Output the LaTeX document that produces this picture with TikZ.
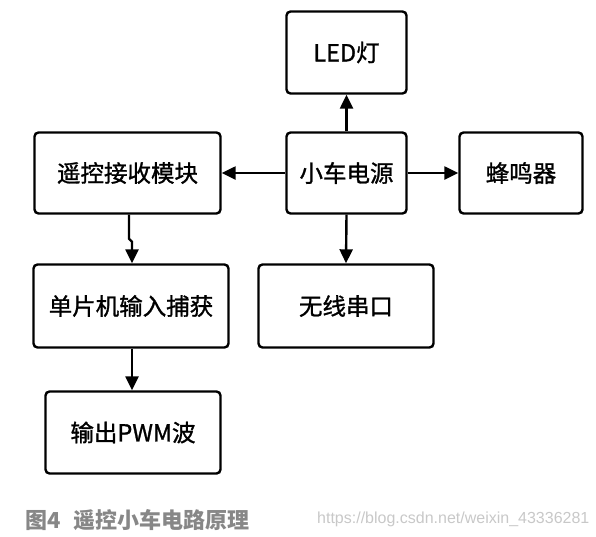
\documentclass[tikz,border=0pt]{standalone}
\usepackage{fontspec}
\setmainfont{Noto Sans CJK SC}
\newfontfamily\boxfont{Noto Sans CJK SC}[FakeBold=1.2]
\newfontfamily\urlfont{Liberation Sans}
\usetikzlibrary{arrows.meta}
\definecolor{capgray}{RGB}{135,135,135}
\definecolor{urlgray}{RGB}{200,200,200}

\begin{document}
\begin{tikzpicture}[x=1pt,y=-1pt,
	box/.style={draw, line width=2.4pt, rounded corners=4pt, inner sep=0pt,
		font=\boxfont\fontsize{23.5}{27}\selectfont},
	arr/.style={line width=2.4pt, -{Triangle[length=14pt,width=13pt]}}]
	\useasboundingbox (0,0) rectangle (596,536);
	% blocks
	\node[box, minimum width=120pt, minimum height=82pt] (led) at (346.5,52.5) {LED灯};
	\node[box, minimum width=120pt, minimum height=81pt] (power) at (346.5,173) {小车电源};
	\node[box, minimum width=186pt, minimum height=81pt] (recv) at (127.5,173) {遥控接收模块};
	\node[box, minimum width=123pt, minimum height=81pt] (buzz) at (521,173) {蜂鸣器};
	\node[box, minimum width=195pt, minimum height=83pt] (cap) at (131,306) {单片机输入捕获};
	\node[box, minimum width=175pt, minimum height=83pt] (wire) at (346,306) {无线串口};
	\node[box, minimum width=175pt, minimum height=82pt] (pwm) at (133,432.5) {输出PWM波};
	% arrows
	\draw[arr] (power.north) -- (led.south);
	\draw[arr] (power.west) -- (recv.east);
	\draw[arr] (power.east) -- (buzz.west);
	\draw[arr] (power.south) -- (wire.north);
	\draw[arr] ([xshift=1.5pt]recv.south) -- ++(0,24) -- ++(3,3) -- ([xshift=1pt]cap.north);
	\draw[arr] ([xshift=1pt]cap.south) -- ([xshift=-1pt]pwm.north);
	% caption
	\node[anchor=west, inner sep=0pt, text=capgray, font=\fontsize{22}{25}\selectfont\bfseries]
		(title) at (25,520) {图4\hspace{0.6em}遥控小车电路原理};
	\node[anchor=west, inner sep=0pt, text=urlgray, font=\urlfont\fontsize{16}{18}\selectfont]
		(url) at (317,519) {https://blog.csdn.net/weixin\_43336281};
\end{tikzpicture}
\end{document}
